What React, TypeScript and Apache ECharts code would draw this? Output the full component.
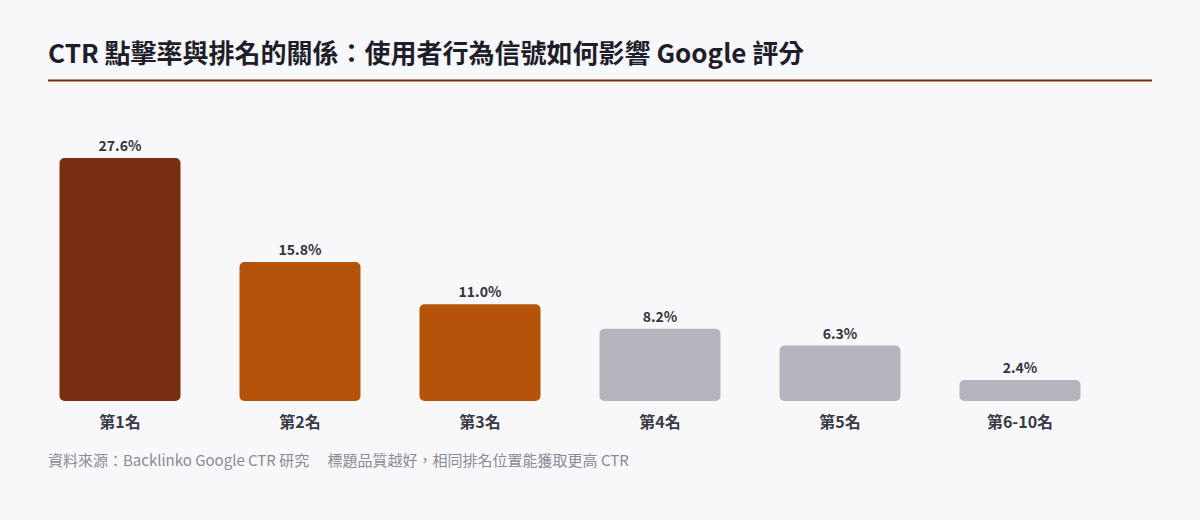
import React, { useEffect, useRef } from "react";
import * as echarts from "echarts";

const categories = ["第1名", "第2名", "第3名", "第4名", "第5名", "第6-10名"];
const ctrValues = [27.6, 15.8, 11.0, 8.2, 6.3, 2.4];
const barColors = ["#7B2D12", "#B45309", "#B45309", "#B4B4BE", "#B4B4BE", "#B4B4BE"];
const titleText = "CTR 點擊率與排名的關係：使用者行為信號如何影響 Google 評分";
const footerText = "資料來源：Backlinko Google CTR 研究　 標題品質越好，相同排名位置能獲取更高 CTR";

const FONT = '"Noto Sans CJK TC", "Noto Sans", sans-serif';

export default function App() {
  const ref = useRef<HTMLDivElement>(null);
  useEffect(() => {
    if (!ref.current) return;
    const chart = echarts.init(ref.current, null, { renderer: "svg" });
    chart.setOption({
      animation: false,
      backgroundColor: "#F8F8FA",
      textStyle: { fontFamily: FONT },
      grid: { left: 30, right: 90, top: 137, bottom: 119, containLabel: false },
      xAxis: {
        type: "category",
        data: categories,
        axisLine: { show: false },
        axisTick: { show: false },
        axisLabel: {
          color: "#3A3A48",
          fontSize: 16,
          fontWeight: "bold",
          fontFamily: FONT,
          margin: 12,
        },
      },
      yAxis: {
        type: "value",
        min: 0,
        max: 30,
        show: false,
        splitLine: { show: false },
      },
      series: [
        {
          type: "bar",
          barWidth: 121,
          data: ctrValues.map((v, i) => ({
            value: v,
            itemStyle: { color: barColors[i], borderRadius: 5 },
          })),
          label: {
            show: true,
            position: "top",
            distance: 6,
            formatter: (p: any) => p.value.toFixed(1) + "%",
            color: "#33333F",
            fontSize: 14,
            fontWeight: "bold",
            fontFamily: FONT,
          },
        },
      ],
      graphic: [
        {
          type: "text",
          left: 48,
          top: 38,
          style: {
            text: titleText,
            fill: "#1E1E2A",
            fontSize: 26,
            fontWeight: "bold",
            fontFamily: FONT,
          },
        },
        {
          type: "line",
          shape: { x1: 48, y1: 80.5, x2: 1152, y2: 80.5 },
          style: { stroke: "#7B2D12", lineWidth: 2 },
        },
        {
          type: "text",
          left: 48,
          top: 452,
          style: {
            text: footerText,
            fill: "#8A8A96",
            fontSize: 15,
            fontFamily: FONT,
          },
        },
      ],
    });
    return () => chart.dispose();
  }, []);
  return (
    <div
      ref={ref}
      style={{ position: "absolute", left: 0, top: 0, width: 1200, height: 520 }}
    />
  );
}
